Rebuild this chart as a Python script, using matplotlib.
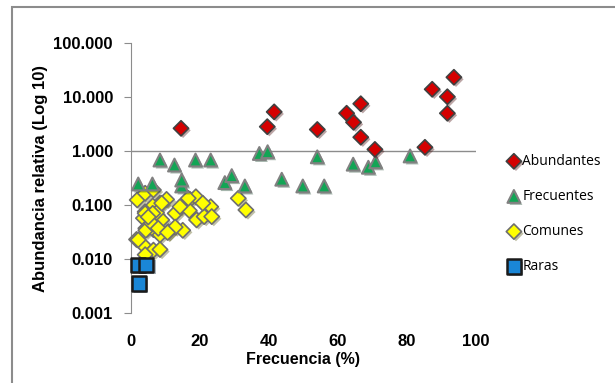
import matplotlib.pyplot as plt
import matplotlib.patheffects as pe
from matplotlib.patches import Rectangle
from matplotlib.ticker import FixedLocator, FixedFormatter, NullLocator

# Abundantes
abund_x = [14.5, 39.5, 41.5, 54.0, 62.5, 64.5, 66.6, 66.6, 70.7, 85.2, 87.3, 91.7, 91.7, 93.6]
abund_y = [2.63, 2.82, 5.3, 2.5, 5.0, 3.4, 7.5, 1.8, 1.07, 1.17, 13.9, 10.1, 5.0, 23.2]

# Frecuentes
frec_x = [8.4, 12.6, 18.7, 23.1, 37.2, 39.6, 54.0, 64.4, 68.8, 70.9, 80.9,
          2.1, 6.2, 14.7, 14.7, 27.2, 29.2, 33.0, 43.7, 49.8, 56.0]
frec_y = [0.68, 0.55, 0.68, 0.68, 0.90, 0.97, 0.78, 0.57, 0.50, 0.63, 0.81,
          0.245, 0.245, 0.225, 0.29, 0.26, 0.35, 0.225, 0.30, 0.225, 0.225]

# Comunes
com_x = [1.8, 4.1, 6.5, 10.3, 8.4, 6.3, 4.1, 3.6, 6.3, 8.9, 4.3, 6.5, 8.4, 10.8,
         1.6, 3.6, 6.5, 8.4, 4.1, 12.8, 15.0, 17.1, 18.8, 16.9, 19.0, 21.2, 23.1,
         20.8, 23.4, 15.0, 12.8, 31.1, 33.3, 7.4, 4.1, 6.3, 4.3, 6.0, 7.9, 2.1,
         8.9, 14.2, 16.6, 5.0, 10.6]
com_y = [0.124, 0.165, 0.19, 0.127, 0.108, 0.096, 0.075, 0.057, 0.047, 0.053, 0.037,
         0.035, 0.028, 0.032, 0.023, 0.018, 0.0146, 0.015, 0.012, 0.07, 0.1, 0.127,
         0.142, 0.079, 0.053, 0.061, 0.093, 0.108, 0.061, 0.034, 0.039, 0.133, 0.081,
         0.072, 0.07, 0.07, 0.034, 0.046, 0.037, 0.0226, 0.108, 0.093, 0.133, 0.06, 0.031]

# Raras
raras_x = [2.0, 4.4, 2.3]
raras_y = [0.0078, 0.0078, 0.0035]

yticks = [0.001, 0.01, 0.1, 1, 10, 100]
ylabels = ['0.001', '0.010', '0.100', '1.000', '10.000', '100.000']
xticks = [0, 20, 40, 60, 80, 100]

tick_font = ['Liberation Sans Narrow', 'Liberation Sans', 'DejaVu Sans']
leg_font = ['Open Sans', 'DejaVu Sans']

fig = plt.figure(figsize=(6.15, 3.83), dpi=100)
ax = fig.add_axes([131 / 615, 1 - 313 / 383, 345 / 615, 270 / 383])

shadow = [pe.SimplePatchShadow(offset=(1.5, -1.5), alpha=0.35), pe.Normal()]

ax.scatter(abund_x, abund_y, marker='D', s=60, c='#d40000', edgecolors='#404040',
           linewidths=1.2, label='Abundantes', zorder=5, path_effects=shadow, clip_on=False)
ax.scatter(frec_x, frec_y, marker='^', s=85, c='#12a555', edgecolors='#808080',
           linewidths=1.5, label='Frecuentes', zorder=4, path_effects=shadow, clip_on=False)
ax.scatter(com_x, com_y, marker='D', s=60, c='#ffff00', edgecolors='#6f6f6f',
           linewidths=1.2, label='Comunes', zorder=3, path_effects=shadow, clip_on=False)
ax.scatter(raras_x, raras_y, marker='s', s=110, c='#1a86d6', edgecolors='#1a1a1a',
           linewidths=1.8, label='Raras', zorder=6, path_effects=shadow, clip_on=False)

ax.set_yscale('log')
ax.set_ylim(0.001, 100)
ax.set_xlim(0, 100)

# the horizontal axis crosses the log axis at 1.000
ax.axhline(1, color='#8c8c8c', lw=1.0, zorder=1)

ax.yaxis.set_major_locator(FixedLocator(yticks))
ax.yaxis.set_major_formatter(FixedFormatter(ylabels))
ax.yaxis.set_minor_locator(NullLocator())
ax.set_xticks(xticks)
ax.xaxis.set_minor_locator(NullLocator())

for sp in ['top', 'right', 'bottom']:
    ax.spines[sp].set_visible(False)
ax.spines['left'].set_color('#8c8c8c')

ax.tick_params(axis='y', length=5, color='#8c8c8c', pad=8)
ax.tick_params(axis='x', length=0, pad=15)
for lab in ax.get_xticklabels() + ax.get_yticklabels():
    lab.set_family(tick_font)
    lab.set_fontweight('bold')
    lab.set_fontsize(12)

ax.set_xlabel('Frecuencia (%)', family=tick_font, fontweight='bold', fontsize=11.5, labelpad=2)
ax.set_ylabel('Abundancia relativa (Log 10)', family=tick_font, fontweight='bold',
              fontsize=12, labelpad=4)

leg = ax.legend(loc='upper left', bbox_to_anchor=(500 / 615, 1 - 147 / 383),
                bbox_transform=fig.transFigure, frameon=False, handletextpad=0.1,
                labelspacing=1.45, prop={'family': leg_font, 'size': 10},
                handlelength=1.0, borderpad=0, scatterpoints=1)

# chart area border
fig.patches.append(Rectangle((12 / 615, -0.1), 1.2, 1.1 - 7 / 383, transform=fig.transFigure,
                             fill=False, edgecolor='#8c8c8c', lw=1.5))

fig.savefig('out.png', dpi=100)
